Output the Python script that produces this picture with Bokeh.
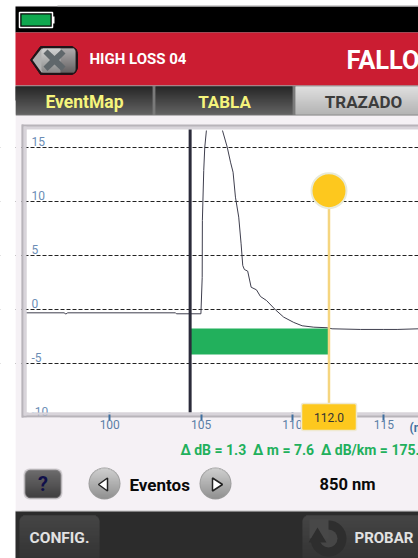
import math
from bokeh.plotting import figure
from bokeh.embed import file_html
from bokeh.resources import INLINE
from bokeh.core.properties import value
from bokeh.models import BoxAnnotation, Label, PolyAnnotation, Range1d, FixedTicker

# ---- data ----
distance_m = [95.44, 97.5, 97.6, 97.7, 103.6, 103.65, 104.99, 105.06, 105.07, 105.145, 105.2, 105.29, 105.7,
              106.17, 106.43, 106.61, 106.75, 106.88, 107.06, 107.19, 107.28, 107.37, 107.55,
              107.74, 108.03, 108.25, 108.58, 109.07, 109.52, 110.07, 110.53, 111.17, 111.90, 112.17,
              113.72, 115.0, 115.73, 116.9]
level_db = [-0.31, -0.31, -0.42, -0.31, -0.31, -0.40, -0.40, 2.96, 8.24, 12.87, 15.0, 16.57, float("nan"),
            16.57, 15.03, 13.64, 12.71, 10.4, 8.55, 6.08, 4.07, 3.70, 3.55,
            2.06, 1.82, 1.20, 0.83, -0.03, -0.71, -1.20, -1.51, -1.64, -1.69, -1.79,
            -1.85, -1.85, -1.85, -1.79]
x_ticks = [100, 105, 110, 115]
y_ticks = [-10, -5, 0, 5, 10, 15]
y_tick_labels = ["-10", "-5", "0", "5", "10", "15"]
grid_ticks = [-5, 0, 5, 10, 15]
panel_left, panel_right = 95.44, 116.9
panel_top, panel_bottom = 16.67, -9.54
marker_a = 104.4
marker_b = 112.0
handle_db = 11.0
band_top_db = -1.76
band_bottom_db = -4.17
tabs = ["EventMap", "TABLA", "TRAZADO"]
readout = "Δ dB = 1.3\u00a0\u00a0Δ m = 7.6\u00a0\u00a0Δ dB/km = 175.0"

p = figure(width=418, height=558, output_backend="svg", toolbar_location=None,
           x_range=Range1d(94.02, 116.9), y_range=Range1d(-23.06, 28.61),
           y_axis_location=None,
           min_border_left=0, min_border_right=0, min_border_top=0, min_border_bottom=0,
           background_fill_color="white", border_fill_color="white", outline_line_color=None)


def box(l, t, r, b, color, radius=0, level="image", line=None, line_w=1):
    p.add_layout(BoxAnnotation(left=l, right=r, top=t, bottom=b,
                               left_units="canvas", right_units="canvas", top_units="canvas", bottom_units="canvas",
                               fill_color=color, fill_alpha=1, line_color=line, line_width=line_w,
                               line_alpha=1 if line else 0, border_radius=radius, level=level, editable=False))


def gradient(l, t, r, b, c0, c1, radius=0, level="image"):
    a = [int(c0[i:i + 2], 16) for i in (1, 3, 5)]
    z = [int(c1[i:i + 2], 16) for i in (1, 3, 5)]
    n = int(b - t)
    for k in range(n):
        f = k / max(n - 1, 1)
        col = "#%02x%02x%02x" % tuple(round(a[i] + (z[i] - a[i]) * f) for i in range(3))
        d = min(k + 0.5, n - k - 0.5)
        inset = radius - math.sqrt(max(radius ** 2 - (radius - d) ** 2, 0)) if d < radius else 0
        box(l + inset, t + k, r - inset, t + k + 1, col, level=level)


def poly(pts, color, line=None, line_w=1, level="image"):
    p.add_layout(PolyAnnotation(xs=[x for x, _ in pts], ys=[y for _, y in pts],
                                xs_units="canvas", ys_units="canvas", fill_color=color, fill_alpha=1,
                                line_color=line, line_width=line_w, line_alpha=1 if line else 0,
                                level=level, editable=False))


def text(x, y, s, size, color, bold=True, align="left", font="Roboto"):
    p.add_layout(Label(x=x, y=y, x_units="canvas", y_units="canvas", text=s,
                       text_font=font, text_font_size=f"{size}px",
                       text_font_style="bold" if bold else "normal", text_color=color,
                       text_align=align, text_baseline="middle"))


def disc(cx, cy, r, color, level="image"):
    box(cx - r, cy - r, cx + r, cy + r, color, radius=r, level=level)


# ---- page chrome ----
box(15, 5, 418, 558, "#f5f1f5")
box(15, 6, 418, 32, "#000000")
box(57, 5, 418, 6, "#a8a8a8")
box(19, 12, 52, 27, "#000000", line="#ffffff", line_w=1.5)
box(21, 14, 50, 25, "#10a84f")
box(52, 16, 54, 23, "#ffffff")
box(15, 32, 418, 85, "#cb1d32")

# back button
poly([(30, 59.5), (40, 46), (72, 46), (76, 49), (77, 53), (77, 68), (75, 72), (72, 74), (40, 74)],
     "#201418", line="#201418", line_w=1)
poly([(32, 59.5), (41, 48), (60, 48), (60, 72), (41, 72)], "#b0b0b0")
gradient(41, 48, 75, 72, "#dcdcdc", "#7e7e7e", radius=3)
poly([(47, 49), (54, 55.5), (61, 49), (65, 53), (58.5, 59.5), (65, 66), (61, 70.5), (54, 64), (47, 70.5),
      (43, 66), (49.5, 59.5), (43, 53)], "#60676b")
text(89, 58, "HIGH LOSS 04", 15, "#ffffff")
text(346, 59, "FALLO", 25.5, "#ffffff", bold=True)

# tabs
box(15, 85, 418, 115, "#7a7a7a")
gradient(15, 86, 152, 114, "#0c0c0c", "#5a5a5a")
gradient(155, 86, 292, 114, "#0c0c0c", "#5a5a5a")
gradient(295, 86, 418, 114, "#ffffff", "#c8c8c8")
text(84, 101, tabs[0], 17.5, "#f6f47c", align="center")
text(224, 101, tabs[1], 17, "#f6f47c", align="center")
text(363, 101, tabs[2], 17, "#3c3c3c", align="center")

# chart panel
box(21, 124, 418, 417, "#b8b4ba")
box(23, 126, 418, 415, "#d8d4da")
box(26, 129, 418, 412, "#ffffff")

# readout and unit
text(409, 427, "(m)", 12, "#3f6f9f")
text(180, 449, readout, 14, "#22b05c")

# lower controls
box(23, 468, 62, 499, "#d2ced2", radius=6)
box(24, 469, 61, 498, "#9a979a", radius=6)
gradient(25, 470, 60, 497, "#5c5c5c", "#242424", radius=5)
text(42.5, 483.5, "?", 20, "#10104a", align="center")
for cx in (104, 215):
    disc(cx, 483, 16, "#9c9c9c")
    gradient(cx - 15, 468, cx + 15, 498, "#dedede", "#8e8e8e", radius=15)
poly([(98, 484), (107, 477.5), (107, 490.5)], "#ffffff", line="#222222", line_w=1.5)
poly([(222, 484), (212, 477.5), (212, 490.5)], "#ffffff", line="#222222", line_w=1.5)
text(129, 484, "Eventos", 17, "#0a0a0a")
text(319, 484, "850 nm", 16.5, "#0a0a0a")

# footer
box(15, 510, 418, 511, "#bdbdbd")
box(15, 511, 418, 558, "#2c2c2c")
gradient(19, 515, 99, 565, "#4e4e4e", "#333333", radius=6)
gradient(302, 515, 425, 565, "#4e4e4e", "#333333", radius=6)
text(59, 537, "CONFIG.", 15.5, "#e2e2e2", align="center")
disc(328, 538, 18, "#2e2e2e")
disc(328, 538, 9, "#464646")
poly([(309, 519), (328, 519), (328, 538), (309, 538)], "#484848")
poly([(317, 527), (308, 542), (326, 542)], "#2e2e2e")
text(354, 537, "PROBAR", 15, "#e2e2e2")

# ---- chart ----
p.xgrid.visible = False
p.ygrid.ticker = FixedTicker(ticks=grid_ticks)
p.ygrid.grid_line_color = "#222222"
p.ygrid.grid_line_dash = "4 2"
p.ygrid.grid_line_width = 1

p.xaxis.fixed_location = panel_bottom
p.xaxis.ticker = FixedTicker(ticks=x_ticks)
p.xaxis.axis_line_color = None
p.xaxis.minor_tick_line_color = None
p.xaxis.major_tick_in = 0
p.xaxis.major_tick_out = 8
p.xaxis.major_tick_line_color = "#3f6f9f"
p.xaxis.major_tick_line_width = 2
p.xaxis.major_label_standoff = 0
p.xaxis.major_label_text_font = "Roboto"
p.xaxis.major_label_text_font_size = "12px"
p.xaxis.major_label_text_color = "#5b7fa6"

p.text(x=[panel_left] * len(y_ticks), y=y_ticks, text=y_tick_labels, x_offset=5, y_offset=-1,
       text_align="left", text_baseline="bottom", text_font=value("Roboto"), text_font_size="12px",
       text_color="#6b8db5")

p.quad(left=[marker_a], right=[marker_b], top=[band_top_db], bottom=[band_bottom_db],
       fill_color="#22b05c", line_color=None)
p.line(distance_m, level_db, line_color="#3f3f4e", line_width=1)
p.segment([marker_a], [panel_top], [marker_a], [panel_bottom], line_color="#2b2b3a", line_width=3)
p.segment([marker_b], [handle_db], [marker_b], [panel_bottom], line_color="#f5d57f", line_width=2.5)
p.scatter([marker_b], [handle_db], size=35, fill_color="#fdc81e", line_color="#e8ead8", line_width=2)

# covers above the grid, the tick roots and the clipped -10 label
box(-4, 100, 15, 510, "#ffffff", level="overlay")
box(15, 116, 21, 510, "#f5f1f5", level="annotation")
box(21, 124, 23, 417, "#b8b4ba", level="annotation")
box(23, 126, 26, 415, "#d8d4da", level="annotation")
box(26, 412, 418, 414, "#d8d4da", level="annotation")
box(26, 414, 60, 415, "#d8d4da", level="annotation")
box(26, 415, 60, 417, "#b8b4ba", level="annotation")
box(26, 417, 60, 424, "#f5f1f5", level="annotation")
box(28, 404, 34.5, 412, "#ffffff", level="annotation")

# cursor value flag
box(301, 403, 356, 430, "#fdc81e", radius=2, level="annotation", line="#efe9d2", line_w=1.5)
text(328.5, 417, f"{marker_b:.1f}", 12, "#333333", bold=False, align="center")

open("out.html", "w").write(file_html(p, INLINE))
